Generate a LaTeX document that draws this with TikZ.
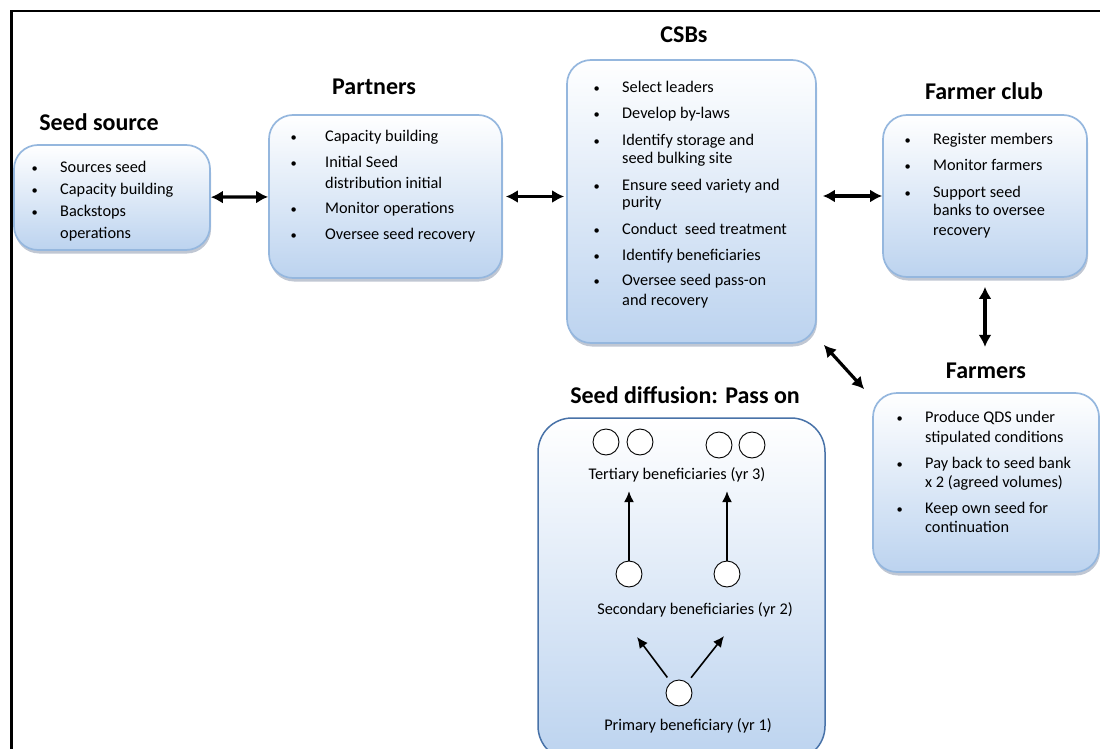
\documentclass[tikz,border=0pt]{standalone}
\usepackage{fontspec}
\setmainfont{Carlito}
\usetikzlibrary{positioning,calc,shadows,arrows.meta}

\definecolor{boxline}{RGB}{149,183,222}
\definecolor{boxfill}{RGB}{188,211,239}
\definecolor{poolline}{RGB}{72,114,168}
\definecolor{boxshade}{RGB}{115,130,158}

\newcommand{\blist}[2]{\begin{tabular}[t]{@{}p{#1}@{}l@{}}#2\end{tabular}}
\newcommand{\bul}{\hspace{0.5pt}{\fontsize{12.5}{19}\selectfont\textbullet}}

\tikzset{
    box/.style={draw=boxline, line width=1.7pt, rounded corners=24pt, inner sep=0pt,
        top color=white, bottom color=boxfill,
        drop shadow={shadow xshift=1pt, shadow yshift=-3.5pt, fill=boxshade, opacity=.45}},
    pool/.style={draw=poolline, line width=1.5pt, rounded corners=34pt, inner sep=0pt,
        top color=white, bottom color=boxfill},
    title/.style={font=\fontsize{24}{28}\selectfont\bfseries, anchor=base},
    list/.style={font=\fontsize{16.3}{19}\selectfont, anchor=base west, inner sep=0pt},
    label/.style={font=\fontsize{16.3}{19}\selectfont, anchor=base},
    bene/.style={circle, draw, fill=white, line width=0.9pt, minimum size=26pt, inner sep=0pt},
    link/.style={{Latex[length=12pt,width=13pt]}-{Latex[length=12pt,width=13pt]}, line width=3.2pt},
    flow/.style={-{Latex[length=11pt,width=10pt]}, line width=1.6pt}
}

\begin{document}
\begin{tikzpicture}[x=1pt, y=-1pt]
    \useasboundingbox (0,0) rectangle (1100,749);
    \draw[line width=2.7pt] (11.5,760) -- (11.5,11) -- (1110,11);

    \node[box, minimum width=196pt, minimum height=105pt] (src) at (112,197.5) {};
    \node[box, minimum width=233pt, minimum height=163pt] (part) at (385.5,196.5) {};
    \node[box, minimum width=249pt, minimum height=283pt] (csb) at (691.5,201.5) {};
    \node[box, minimum width=204pt, minimum height=162pt] (club) at (985,196) {};
    \node[box, minimum width=226pt, minimum height=179pt] (farm) at (986,482.5) {};
    \node[pool, minimum width=287pt, minimum height=342pt] (pool) at (681.5,589) {};

    \node[title] (srctitle) at (99,131) {Seed source};
    \node[title] (parttitle) at (374,95) {Partners};
    \node[title] (csbtitle) at (684,43) {CSBs};
    \node[title] (clubtitle) at (984,100) {Farmer club};
    \node[title] (fmtitle) at (986,378) {Farmers};
    \node[title] (pooltitle) at (685,403) {Seed diffusion: Pass on};

    \node[list] (srclist) at (31,172) {\blist{29pt}{%
        \bul & Sources seed\\[3pt]
        \bul & Capacity building\\[3pt]
        \bul & Backstops\\[3pt]
        & operations}};
    \node[list] (partlist) at (290,142) {\blist{35pt}{%
        \bul & Capacity building\\[7pt]
        \bul & Initial Seed\\[2pt]
        & distribution initial\\[6pt]
        \bul & Monitor operations\\[7pt]
        \bul & Oversee seed recovery}};
    \node[list] (csblist) at (593,93) {\blist{29pt}{%
        \bul & Select leaders\\[7pt]
        \bul & Develop by-laws\\[8pt]
        \bul & Identify storage and\\[-1pt]
        & seed bulking site\\[8pt]
        \bul & Ensure seed variety and\\[-2pt]
        & purity\\[8pt]
        \bul & Conduct \ seed treatment\\[7pt]
        \bul & Identify beneficiaries\\[6pt]
        \bul & Oversee seed pass-on\\[1pt]
        & and recovery}};
    \node[list] (clublist) at (904,144) {\blist{29pt}{%
        \bul & Register members\\[7pt]
        \bul & Monitor farmers\\[8pt]
        \bul & Support seed\\[-1pt]
        & banks to oversee\\[1pt]
        & recovery}};
    \node[list] (farmlist) at (896,422) {\blist{29pt}{%
        \bul & Produce QDS under\\[1pt]
        & stipulated conditions\\[7pt]
        \bul & Pay back to seed bank\\[0pt]
        & x 2 (agreed volumes)\\[7pt]
        \bul & Keep own seed for\\[0pt]
        & continuation}};

    \node[bene] (t1) at (606,442) {};
    \node[bene] (t2) at (640,442) {};
    \node[bene] (t3) at (719,445) {};
    \node[bene] (t4) at (752,445) {};
    \node[label] (tlab) at (677,479) {Tertiary beneficiaries (yr 3)};
    \node[bene] (s1) at (629,574) {};
    \node[bene] (s2) at (727,574) {};
    \node[label] (slab) at (695,614) {Secondary beneficiaries (yr 2)};
    \node[bene] (p1) at (679,693) {};
    \node[label] (plab) at (688,730) {Primary beneficiary (yr 1)};
    \coordinate (up1) at (637,637);
    \coordinate (up2) at (724,636);

    \draw[link] (src) -- (part);
    \draw[link, shorten <=3pt, shorten >=2pt] (part.east) -- (part.east -| csb.west);
    \draw[link, shorten <=6pt] (csb.east |- club.west) -- (club.west);
    \draw[link, shorten <=9pt, shorten >=12pt] (club.south) -- (club.south |- fmtitle.north);
    \draw[link] ([shift={(7pt,-1pt)}]csb.south east) -- ([shift={(-8pt,3pt)}]farm.north west);

    \draw[flow, shorten >=6pt] (s1) -- (s1 |- tlab.south);
    \draw[flow, shorten >=6pt] (s2) -- (s2 |- tlab.south);
    \draw[flow, shorten <=6pt] (p1) -- (up1);
    \draw[flow, shorten <=6pt] (p1) -- (up2);
\end{tikzpicture}
\end{document}
